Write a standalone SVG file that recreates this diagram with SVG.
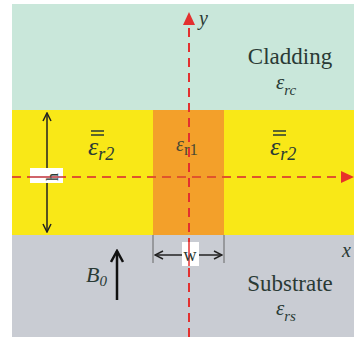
<svg xmlns="http://www.w3.org/2000/svg" width="354" height="339" viewBox="0 0 354 339">
<defs>
<style>
text{font-family:"Liberation Serif","DejaVu Serif","Times New Roman",serif;fill:#2a3a35}
.it{font-style:italic}
.dim{stroke:#222;stroke-width:1.5;fill:none}
.ext{stroke:#666;stroke-width:1;fill:none}
</style>
<marker id="open" viewBox="0 0 10 10" refX="9" refY="5" markerWidth="10" markerHeight="10" markerUnits="userSpaceOnUse" orient="auto-start-reverse">
<path d="M1,1 L9,5 L1,9" fill="none" stroke="#222" stroke-width="1.5"/>
</marker>
<marker id="openBig" viewBox="0 0 14 14" refX="12" refY="7" markerWidth="14" markerHeight="14" markerUnits="userSpaceOnUse" orient="auto">
<path d="M1,1 L12,7 L1,13" fill="none" stroke="#111" stroke-width="2.5"/>
</marker>
</defs>
<rect width="354" height="339" fill="#ffffff"/>
<g id="cladding">
<rect x="12" y="4" width="342" height="106" fill="#c9e7da"/>
<text font-family="Liberation Serif, serif" x="290" y="64" font-size="23" text-anchor="middle">Cladding</text>
<text font-family="Liberation Serif, serif" class="it" x="276" y="89" font-size="21">ε<tspan font-size="15" dy="6">rc</tspan></text>
</g>
<g id="core-layer">
<rect x="12" y="110" width="342" height="125" fill="#f9e817"/>
<text font-family="Liberation Serif, serif" class="it" x="88" y="155" font-size="26">ε<tspan font-size="18" dy="5">r2</tspan></text>
<path d="M91,131 H104 M91,135 H104" stroke="#2a3a35" stroke-width="1.5"/>
<text font-family="Liberation Serif, serif" class="it" x="270" y="155" font-size="26">ε<tspan font-size="18" dy="5">r2</tspan></text>
<path d="M273,131 H286 M273,135 H286" stroke="#2a3a35" stroke-width="1.5"/>
</g>
<g id="strip">
<rect x="153" y="110" width="71" height="125" fill="#f3a02a"/>
<text font-family="Liberation Serif, serif" class="it" x="176" y="151" font-size="20" fill-opacity="0.85">ε<tspan font-size="17" dy="4" font-style="normal">r1</tspan></text>
</g>
<g id="substrate">
<rect x="12" y="235" width="342" height="102" fill="#c9ccd3"/>
<text font-family="Liberation Serif, serif" x="290" y="291" font-size="23" text-anchor="middle">Substrate</text>
<text font-family="Liberation Serif, serif" class="it" x="276" y="315" font-size="21">ε<tspan font-size="15" dy="6">rs</tspan></text>
</g>
<g id="connectors">
<line x1="189" y1="337" x2="189" y2="24" stroke="#e3302f" stroke-width="2" stroke-dasharray="9,6"/>
<polygon points="189,12 183,25 195,25" fill="#e3302f"/>
<line x1="12" y1="177" x2="342" y2="177" stroke="#e0542c" stroke-width="2" stroke-dasharray="9,6"/>
<polygon points="354,177 341,171 341,183" fill="#e8302a"/>
<line class="dim" x1="47" y1="113" x2="47" y2="232" marker-start="url(#open)" marker-end="url(#open)"/>
<line class="ext" x1="153" y1="235" x2="153" y2="263"/>
<line class="ext" x1="224" y1="235" x2="224" y2="263"/>
<line class="dim" x1="155" y1="255" x2="222" y2="255" marker-start="url(#open)" marker-end="url(#open)"/>
<line x1="117" y1="300" x2="117" y2="251" stroke="#111" stroke-width="2.5" marker-end="url(#openBig)"/>
</g>
<g id="h-label">
<rect x="30" y="168" width="33" height="15" fill="#ffffff"/>
<line x1="30" y1="177" x2="63" y2="177" stroke="#c0303a" stroke-width="1.5"/>
<text font-family="Liberation Serif, serif" x="0" y="0" font-size="16" text-anchor="middle" transform="translate(53,177) rotate(-90)" dy="5">h</text>
</g>
<g id="w-label">
<rect x="182" y="242" width="17" height="24" fill="#ffffff"/>
<line x1="189" y1="242" x2="189" y2="266" stroke="#e3302f" stroke-width="1.5"/>
<text font-family="Liberation Serif, serif" x="190" y="261" font-size="18" text-anchor="middle">w</text>
</g>
<g id="axis-labels">
<text font-family="Liberation Serif, serif" class="it" x="199" y="25" font-size="20">y</text>
<text font-family="Liberation Serif, serif" class="it" x="342" y="257" font-size="20">x</text>
<text font-family="Liberation Serif, serif" class="it" x="86" y="282" font-size="22">B<tspan font-size="15" dy="4">0</tspan></text>
</g>
</svg>
